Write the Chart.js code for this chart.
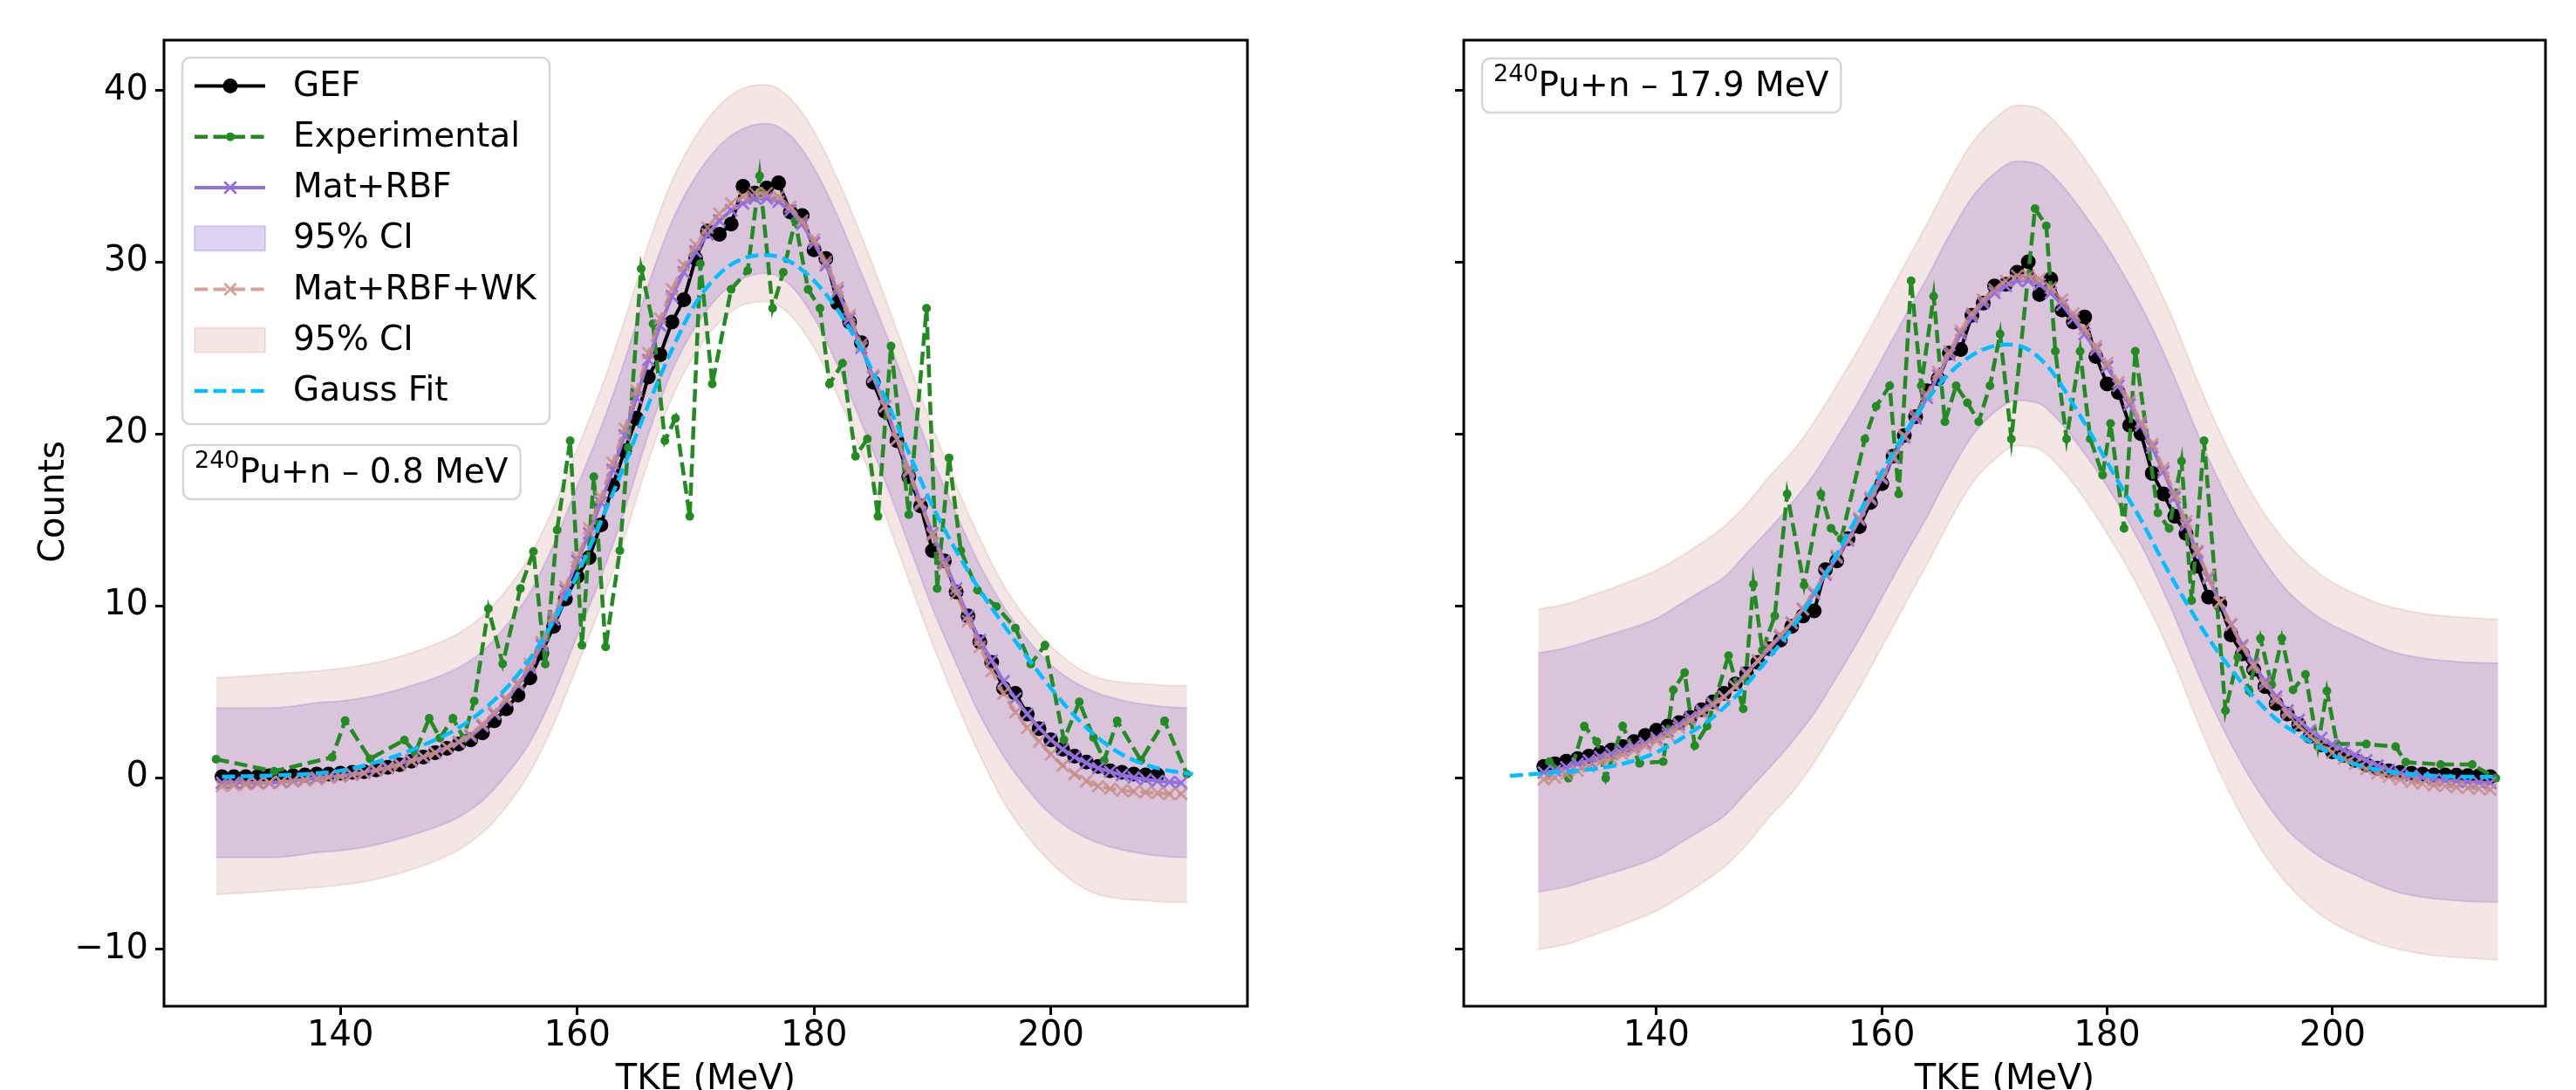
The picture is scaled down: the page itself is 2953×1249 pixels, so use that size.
<!DOCTYPE html>
<html>
<head>
<meta charset="utf-8">
<script src="https://cdn.jsdelivr.net/npm/chart.js@4.4.1/dist/chart.umd.min.js"></script>
<style>
  html, body { margin: 0; padding: 0; background: #fff; overflow: hidden; }
  #wrap { position: relative; width: 2953px; height: 1249px; overflow: hidden; }
  canvas { position: absolute; top: 0; }
  #left { left: 0; }
  #right { left: 1480px; }
</style>
</head>
<body>
<div id="wrap">
  <canvas id="left" width="1480" height="1290"></canvas>
  <canvas id="right" width="1473" height="1290"></canvas>
</div>
<script>
// values
var yTicks = [-10, 0, 10, 20, 30, 40];
var xTicks = [140, 160, 180, 200];
var legendLabels = ['GEF', 'Experimental', 'Mat+RBF', '95% CI', 'Mat+RBF+WK', '95% CI', 'Gauss Fit'];
var tagEnergy = ['0.8 MeV', '17.9 MeV'];

// ---- left panel: 240Pu+n 0.8 MeV ----
var gefX_L = [130,131,132,133,134,135,136,137,138,139,140,141,142,143,144,145,146,147,148,149,
  150,151,152,153,154,155,156,157,158,159,160,161,162,163,164,165,166,167,168,169,
  170,171,172,173,174,175,176,177,178,179,180,181,182,183,184,185,186,187,188,189,
  190,191,192,193,194,195,196,197,198,199,200,201,202,203,204,205,206,207,208,209];
var gefY_L = [0.05,0.05,0.05,0.05,0.1,0.1,0.1,0.15,0.2,0.2,0.25,0.3,0.35,0.45,0.6,0.75,0.95,1.2,1.45,1.7,
  1.95,2.2,2.6,3.3,4.0,4.8,5.8,7.25,8.8,10.4,11.7,12.8,14.7,17.0,19.0,20.9,23.3,24.6,26.5,27.8,
  30.2,31.8,31.6,32.2,34.4,34.0,34.3,34.6,32.9,32.7,30.7,30.2,27.6,26.5,25.3,23.0,21.3,19.6,17.5,15.8,
  13.2,12.6,10.8,9.4,7.9,6.7,5.2,4.9,3.7,2.85,2.2,1.65,1.25,0.9,0.65,0.4,0.3,0.2,0.15,0.15];

var expX_L = [129.5,134.4,139.3,140.4,142.5,145.4,146.3,147.5,148.4,149.5,150.4,151.3,152.5,153.7,155.2,156.3,157.3,158.3,159.4,160.4,
  161.4,162.4,163.6,164.3,165.4,166.4,167.4,168.3,169.5,170.4,171.4,173.0,174.4,175.4,176.5,177.4,178.4,179.5,180.5,181.3,
  182.4,183.5,184.5,185.4,186.5,188.0,189.5,190.4,191.4,192.4,193.8,195.4,197.0,198.3,199.5,201.1,202.4,203.6,204.5,205.6,
  207.6,209.6,211.5];
var expY_L = [1.07,0.37,1.18,3.32,1.09,2.18,1.44,3.45,2.3,3.45,2.3,4.45,9.83,6.62,11.0,13.15,6.6,14.4,19.6,7.7,
  17.5,7.6,13.2,19.2,29.6,26.4,19.6,20.9,15.2,29.9,22.9,28.4,29.5,35.0,27.3,29.4,32.4,28.4,27.3,22.9,
  24.1,18.7,19.7,15.2,25.1,15.3,27.3,11.0,18.6,13.2,10.9,9.95,8.7,6.6,7.7,2.2,4.4,2.33,1.0,3.3,
  1.0,3.3,0.19];

var modelX_L = [130,131,132,133,134,135,136,137,138,139,140,141,142,143,144,145,146,147,148,149,
  150,151,152,153,154,155,156,157,158,159,160,161,162,163,164,165,166,167,168,169,
  170,171,172,173,174,175,176,177,178,179,180,181,182,183,184,185,186,187,188,189,
  190,191,192,193,194,195,196,197,198,199,200,201,202,203,204,205,206,207,208,209,210,211];
var ratY_L = [-0.3,-0.3,-0.3,-0.3,-0.3,-0.25,-0.2,-0.1,0.0,0.05,0.1,0.2,0.3,0.45,0.6,0.8,1.0,1.2,1.45,1.75,
  2.05,2.4,3.0,3.7,4.5,5.4,6.4,7.7,9.2,10.9,12.6,14.2,16.0,17.9,19.9,22.1,24.3,26.3,28.0,29.4,
  30.6,31.6,32.4,33.0,33.4,33.7,33.7,33.5,33.0,32.2,31.1,29.8,28.3,26.7,25.0,23.3,21.6,19.7,17.9,16.0,
  14.2,12.6,11.0,9.4,8.0,6.8,5.6,4.6,3.7,2.9,2.2,1.65,1.2,0.85,0.55,0.35,0.15,0.0,-0.1,-0.2,-0.25,-0.3];
var wkY_L = [-0.5,-0.45,-0.4,-0.35,-0.3,-0.25,-0.2,-0.15,-0.1,0.0,0.05,0.15,0.25,0.4,0.55,0.75,0.95,1.2,1.45,1.75,
  2.1,2.5,3.1,3.8,4.6,5.5,6.6,7.9,9.4,11.1,12.8,14.5,16.3,18.3,20.3,22.5,24.7,26.7,28.4,29.8,
  31.0,32.0,32.8,33.4,33.8,34.0,34.0,33.8,33.2,32.4,31.3,30.0,28.5,26.9,25.2,23.4,21.6,19.7,17.8,15.9,
  14.1,12.4,10.7,9.1,7.6,6.2,4.9,3.8,2.9,2.1,1.35,0.7,0.2,-0.2,-0.5,-0.65,-0.75,-0.8,-0.85,-0.9,-0.95,-0.95];

var bandX_L = [129.5,132,134,136,138,140,142,144,146,148,150,152,154,156,158,160,162,164,166,168,
  170,172,174,176,178,180,182,184,186,188,190,192,194,196,198,200,202,204,206,208,210,211.5];
var ratHi_L = [4.05,4.05,4.05,4.15,4.35,4.45,4.65,4.95,5.35,5.8,6.4,7.35,8.85,10.75,13.55,16.95,20.35,24.25,28.65,32.35,
  34.95,36.75,37.75,38.05,37.35,35.45,32.65,29.35,25.95,22.25,18.55,15.35,12.35,9.95,8.05,6.55,5.55,4.9,4.5,4.25,4.1,4.05];
var ratLo_L = [-4.65,-4.65,-4.65,-4.55,-4.35,-4.25,-4.05,-3.75,-3.35,-2.9,-2.3,-1.35,0.15,2.05,4.85,8.25,11.65,15.55,19.95,23.65,
  26.25,28.05,29.05,29.35,28.65,26.75,23.95,20.65,17.25,13.55,9.85,6.65,3.65,1.25,-0.65,-2.15,-3.15,-3.8,-4.2,-4.45,-4.6,-4.65];
var wkHi_L = [5.8,5.9,6.0,6.1,6.2,6.35,6.55,6.85,7.25,7.75,8.4,9.4,10.9,12.9,15.7,19.1,22.6,26.6,31.0,34.7,
  37.3,39.1,40.1,40.3,39.5,37.6,34.8,31.5,27.9,24.1,20.4,17.0,13.9,11.2,9.2,7.65,6.5,5.8,5.55,5.45,5.35,5.35];
var wkLo_L = [-6.8,-6.7,-6.6,-6.5,-6.4,-6.25,-6.05,-5.75,-5.35,-4.85,-4.2,-3.2,-1.7,0.3,3.1,6.5,10.0,14.0,18.4,22.1,
  24.7,26.5,27.5,27.7,26.9,25.0,22.2,18.9,15.3,11.5,7.8,4.4,1.3,-1.4,-3.4,-4.95,-6.1,-6.8,-7.05,-7.15,-7.25,-7.25];

var gaussX_L = [130,132,134,136,138,140,142,144,146,148,150,152,154,156,158,160,162,164,166,168,
  170,172,174,176,178,180,182,184,186,188,190,192,194,196,198,200,202,204,206,208,210,212];
var gaussY_L = [0.05,0.08,0.12,0.17,0.25,0.4,0.7,1.1,1.6,2.2,2.9,3.9,5.2,6.9,9.1,11.8,14.9,18.2,21.7,24.9,
  27.6,29.3,30.2,30.4,30.0,28.9,27.2,24.9,22.1,18.9,15.8,13.2,10.9,8.9,7.0,5.2,3.6,2.3,1.35,0.75,0.4,0.2];

// ---- right panel: 240Pu+n 17.9 MeV ----
var gefX_R = [130,131,132,133,134,135,136,137,138,139,140,141,142,143,144,145,146,147,148,149,
  150,151,152,153,154,155,156,157,158,159,160,161,162,163,164,165,166,167,168,169,
  170,171,172,173,174,175,176,177,178,179,180,181,182,183,184,185,186,187,188,189,
  190,191,192,193,194,195,196,197,198,199,200,201,202,203,204,205,206,207,208,209,210,211,212,213,214];
var gefY_R = [0.65,0.8,0.95,1.1,1.25,1.45,1.6,1.8,2.1,2.45,2.75,3.0,3.2,3.5,3.95,4.4,4.9,5.45,6.05,6.7,
  7.5,8.0,8.8,9.4,9.7,12.1,12.6,13.9,14.6,16.0,17.1,18.7,19.9,21.0,22.5,23.2,24.7,24.9,26.9,27.6,
  28.6,28.7,29.4,30.0,28.1,29.0,27.2,26.5,26.8,24.5,22.9,22.4,20.5,20.0,17.7,16.5,15.2,14.2,12.3,10.5,
  10.1,8.3,7.2,6.3,5.3,4.3,3.7,3.1,2.4,1.9,1.5,1.3,1.0,0.75,0.55,0.4,0.3,0.25,0.2,0.15,0.15,0.14,0.12,0.1,0.05];

var expX_R = [130.5,132.2,133.6,134.7,135.5,137.0,138.5,140.6,141.5,142.5,143.4,144.5,146.4,147.7,148.6,149.4,150.5,151.6,153.1,154.6,
  155.5,156.4,158.5,159.5,160.7,161.5,162.6,163.5,164.6,165.6,166.6,167.6,168.6,169.6,170.5,171.5,173.6,174.6,175.4,176.4,
  177.6,178.5,179.6,180.3,181.5,182.5,184.5,185.5,186.6,187.5,188.6,190.5,191.6,192.6,193.6,194.6,195.5,196.5,197.6,198.7,
  199.5,200.4,203.0,205.6,206.5,209.6,212.4,214.5];
var expY_R = [0.93,-0.04,3.0,2.1,-0.04,3.0,0.83,0.93,5.1,6.1,1.85,3.0,7.1,4.0,11.25,7.4,9.4,16.5,11.2,16.5,
  14.5,13.9,19.7,21.6,22.8,16.5,28.9,22.8,28.0,20.7,22.8,21.8,20.7,22.8,25.8,19.7,33.1,32.1,24.8,19.7,
  24.8,19.7,17.6,20.6,14.5,24.8,15.4,14.5,18.4,10.3,19.6,3.9,7.0,5.04,8.1,5.4,8.1,5.1,6.0,1.8,
  5.04,1.95,1.95,1.8,0.9,0.76,0.76,-0.03];

var modelX_R = gefX_R;
var ratY_R = [0.3,0.4,0.6,0.8,1.0,1.2,1.4,1.6,1.8,2.0,2.3,2.7,3.1,3.5,3.9,4.3,4.7,5.3,6.1,6.8,
  7.5,8.2,9.0,9.8,10.7,11.8,12.8,13.8,15.0,16.2,17.4,18.6,19.8,20.9,22.1,23.4,24.6,25.8,26.8,27.6,
  28.2,28.6,28.9,28.9,28.7,28.2,27.5,26.7,25.8,24.9,23.9,22.8,21.7,20.5,19.2,17.8,16.3,14.7,13.1,11.6,
  10.2,8.9,7.7,6.6,5.6,4.7,3.9,3.35,2.75,2.3,1.9,1.6,1.3,1.0,0.7,0.45,0.25,0.1,0.0,-0.1,-0.15,-0.2,-0.25,-0.28,-0.3];
var wkY_R = [-0.1,0.0,0.2,0.4,0.65,0.9,1.1,1.35,1.6,1.85,2.15,2.5,2.9,3.3,3.75,4.2,4.7,5.3,6.0,6.8,
  7.6,8.3,9.0,9.8,10.8,11.9,12.9,13.9,15.1,16.3,17.5,18.7,19.9,21.1,22.3,23.6,24.8,26.0,27.0,27.8,
  28.4,28.9,29.2,29.2,29.0,28.5,27.8,27.0,26.1,25.1,24.1,23.0,21.9,20.7,19.4,18.0,16.5,14.9,13.2,11.7,
  10.2,8.9,7.6,6.5,5.4,4.5,3.7,3.0,2.4,1.9,1.45,1.1,0.8,0.5,0.25,0.05,-0.1,-0.25,-0.35,-0.45,-0.5,-0.55,-0.6,-0.65,-0.7];

var bandX_R = [129.5,132,134,136,138,140,142,144,146,148,150,152,154,156,158,160,162,164,166,168,
  170,172,174,176,178,180,182,184,186,188,190,192,194,196,198,200,202,204,206,208,210,212,214.7];
var ratHi_R = [7.25,7.55,7.95,8.35,8.75,9.25,10.05,10.85,11.65,13.05,14.45,15.95,17.65,19.75,21.95,24.35,26.75,29.05,31.55,33.75,
  35.15,35.85,35.65,34.45,32.75,30.85,28.65,26.15,23.25,20.05,17.15,14.65,12.55,10.85,9.7,8.85,8.25,7.65,7.2,6.95,6.8,6.7,6.65];
var ratLo_R = [-6.65,-6.35,-5.95,-5.55,-5.15,-4.65,-3.85,-3.05,-2.25,-0.85,0.55,2.05,3.75,5.85,8.05,10.45,12.85,15.15,17.65,19.85,
  21.25,21.95,21.75,20.55,18.85,16.95,14.75,12.25,9.35,6.15,3.25,0.75,-1.35,-3.05,-4.2,-5.05,-5.65,-6.25,-6.7,-6.95,-7.1,-7.2,-7.25];
var wkHi_R = [9.8,10.1,10.55,11.0,11.5,12.05,12.8,13.65,14.6,15.9,17.5,18.9,20.7,22.8,25.0,27.4,29.8,32.2,34.7,36.9,
  38.3,39.1,38.9,37.7,36.0,34.0,31.8,29.3,26.4,23.1,20.1,17.5,15.3,13.6,12.3,11.35,10.7,10.15,9.8,9.55,9.4,9.3,9.2];
var wkLo_R = [-10.0,-9.7,-9.25,-8.8,-8.3,-7.75,-7.0,-6.15,-5.2,-3.9,-2.3,-0.9,0.9,3.0,5.2,7.6,10.0,12.4,14.9,17.1,
  18.5,19.3,19.1,17.9,16.2,14.2,12.0,9.5,6.6,3.3,0.3,-2.3,-4.5,-6.2,-7.5,-8.45,-9.1,-9.65,-10.0,-10.25,-10.4,-10.5,-10.6];

var gaussX_R = [127,129,131,133,135,137,139,141,143,145,147,149,151,153,155,157,159,161,163,165,
  167,169,171,173,175,177,179,181,183,185,187,189,191,193,195,197,199,201,203,205,207,209,211,213,214.7];
var gaussY_R = [0.1,0.2,0.3,0.4,0.55,0.8,1.2,1.8,2.6,3.5,4.7,6.2,7.8,9.6,11.8,14.2,16.6,18.9,21.0,22.8,
  24.1,24.9,25.2,24.9,23.7,21.7,19.5,17.2,15.0,12.5,10.2,8.1,6.3,4.7,3.4,2.5,1.7,1.0,0.6,0.35,0.2,0.1,0.05,0.05,0.05];

// ---- styling ----
var FONT = 'DejaVu Sans';
var GREEN = '#228B22', PURPLE = '#9370DB', SKY = '#00BFFF';
var PURPLE_FILL = 'rgba(147,112,219,0.3)';
var ROSE_FILL = 'rgba(200,140,130,0.22)';
var ROSE_LINE = 'rgba(200,140,130,0.8)';
var DASH = [15, 6.5];

function pts(xs, ys) {
  var out = [];
  for (var i = 0; i < xs.length; i++) out.push({x: xs[i], y: ys[i]});
  return out;
}

// order: higher is drawn first; fills sit under every line, as in matplotlib
function panelDatasets(p) {
  return [
    {label: legendLabels[0], data: pts(p.gefX, p.gefY), order: 7, borderColor: '#000', borderWidth: 4,
      pointStyle: 'circle', pointRadius: 8.5, pointBackgroundColor: '#000', pointBorderWidth: 0},
    {label: legendLabels[1], data: pts(p.expX, p.expY), order: 6, borderColor: GREEN, borderWidth: 4.5, borderDash: DASH,
      pointStyle: 'circle', pointRadius: 5, pointBackgroundColor: GREEN, pointBorderWidth: 0},
    {label: legendLabels[2], data: pts(p.modelX, p.ratY), order: 5, borderColor: PURPLE, borderWidth: 4,
      pointStyle: 'crossRot', pointRadius: 9.5, pointBorderColor: PURPLE, pointBorderWidth: 2.8},
    {label: 'ci-lo', data: pts(p.bandX, p.ratLo), order: 10, borderColor: PURPLE_FILL, borderWidth: 2,
      pointRadius: 0, fill: false, cubicInterpolationMode: 'monotone'},
    {label: legendLabels[3], data: pts(p.bandX, p.ratHi), order: 10, borderColor: PURPLE_FILL, backgroundColor: PURPLE_FILL,
      borderWidth: 2, pointRadius: 0, fill: '-1', cubicInterpolationMode: 'monotone'},
    {label: legendLabels[4], data: pts(p.modelX, p.wkY), order: 3, borderColor: ROSE_LINE, borderWidth: 4, borderDash: DASH,
      pointStyle: 'crossRot', pointRadius: 9.5, pointBorderColor: ROSE_LINE, pointBorderWidth: 2.8},
    {label: 'ci-lo', data: pts(p.bandX, p.wkLo), order: 9, borderColor: ROSE_FILL, borderWidth: 2,
      pointRadius: 0, fill: false, cubicInterpolationMode: 'monotone'},
    {label: legendLabels[5], data: pts(p.bandX, p.wkHi), order: 9, borderColor: ROSE_FILL, backgroundColor: ROSE_FILL,
      borderWidth: 2, pointRadius: 0, fill: '-1', cubicInterpolationMode: 'monotone'},
    {label: legendLabels[6], data: pts(p.gaussX, p.gaussY), order: 1, borderColor: SKY, borderWidth: 4.5, borderDash: DASH,
      pointRadius: 0, cubicInterpolationMode: 'monotone'}
  ];
}

function roundRect(ctx, x, y, w, h, r) {
  ctx.beginPath();
  ctx.moveTo(x + r, y);
  ctx.lineTo(x + w - r, y); ctx.arcTo(x + w, y, x + w, y + r, r);
  ctx.lineTo(x + w, y + h - r); ctx.arcTo(x + w, y + h, x + w - r, y + h, r);
  ctx.lineTo(x + r, y + h); ctx.arcTo(x, y + h, x, y + h - r, r);
  ctx.lineTo(x, y + r); ctx.arcTo(x, y, x + r, y, r);
  ctx.closePath();
}

function boxFrame(ctx, x, y, w, h) {
  roundRect(ctx, x, y, w, h, 9);
  ctx.fillStyle = 'rgba(255,255,255,0.8)';
  ctx.fill();
  ctx.lineWidth = 2.5;
  ctx.strokeStyle = 'rgba(204,204,204,0.8)';
  ctx.stroke();
}

// legend rows refer to dataset indexes
var legendRows = [{ds: 0}, {ds: 1}, {ds: 2}, {ds: 4, patch: true}, {ds: 5}, {ds: 7, patch: true}, {ds: 8}];

function drawLegend(chart, x, y) {
  var ctx = chart.ctx, sets = chart.data.datasets;
  boxFrame(ctx, x, y, 421, 420);
  ctx.font = '39px "' + FONT + '"';
  ctx.textBaseline = 'middle';
  ctx.textAlign = 'left';
  legendRows.forEach(function(row, i) {
    var ds = sets[row.ds];
    var cy = y + 32.5 + i * 58.25;
    if (row.patch) {
      ctx.fillStyle = ds.backgroundColor;
      ctx.fillRect(x + 14, cy - 14, 81, 28);
      ctx.strokeStyle = ds.borderColor;
      ctx.lineWidth = 2;
      ctx.strokeRect(x + 14, cy - 14, 81, 28);
    } else {
      ctx.save();
      ctx.setLineDash(ds.borderDash || []);
      ctx.strokeStyle = ds.borderColor;
      ctx.lineWidth = ds.borderWidth;
      ctx.beginPath();
      ctx.moveTo(x + 14, cy);
      ctx.lineTo(x + 95, cy);
      ctx.stroke();
      ctx.restore();
      if (ds.pointRadius > 0) {
        ctx.save();
        ctx.fillStyle = ds.pointBackgroundColor || ds.borderColor;
        ctx.strokeStyle = ds.pointBorderColor || ds.borderColor;
        ctx.lineWidth = ds.pointBorderWidth;
        Chart.helpers.drawPoint(ctx, {pointStyle: ds.pointStyle, radius: ds.pointRadius,
          borderWidth: ds.pointBorderWidth, rotation: 0}, x + 55, cy);
        ctx.restore();
      }
    }
    ctx.fillStyle = '#000';
    ctx.fillText(legendLabels[i], x + 127, cy + 1);
  });
}

function drawTag(ctx, energy, x, y) {
  var sup = '240', main = 'Pu+n \u2013 ' + energy;
  ctx.font = '27px "' + FONT + '"';
  var supW = ctx.measureText(sup).width;
  ctx.font = '39px "' + FONT + '"';
  var mainW = ctx.measureText(main).width;
  boxFrame(ctx, x, y, 13 + supW + mainW + 14, 62);
  ctx.fillStyle = '#000';
  ctx.textAlign = 'left';
  ctx.textBaseline = 'alphabetic';
  ctx.font = '27px "' + FONT + '"';
  ctx.fillText(sup, x + 13, y + 26);
  ctx.font = '39px "' + FONT + '"';
  ctx.fillText(main, x + 13 + supW, y + 43);
}

var overlayPlugin = {
  id: 'overlay',
  afterDatasetsDraw: function(chart) {
    var a = chart.chartArea, ctx = chart.ctx;
    ctx.save();
    ctx.strokeStyle = '#000';
    ctx.lineWidth = 3;
    ctx.strokeRect(a.left, a.top, a.right - a.left, a.bottom - a.top);
    ctx.restore();
  },
  afterDraw: function(chart, args, opts) {
    var a = chart.chartArea, ctx = chart.ctx;
    ctx.save();
    if (opts.legend) drawLegend(chart, a.left + 21, a.top + 20);
    drawTag(ctx, opts.energy, a.left + opts.tagDx, a.top + opts.tagDy);
    if (opts.yLabel) {
      // y label sits a little above the axes centre in the reference
      ctx.translate(63, 575);
      ctx.rotate(-Math.PI / 2);
      ctx.font = '40px "' + FONT + '"';
      ctx.fillStyle = '#000';
      ctx.textAlign = 'center';
      ctx.textBaseline = 'middle';
      ctx.fillText(opts.yLabel, 0, 0);
    }
    ctx.restore();
  }
};

function minusLabel(v) { return String(v).replace('-', '\u2212'); }

function makeChart(id, p) {
  var tickFont = {family: FONT, size: 40};
  return new Chart(document.getElementById(id), {
    type: 'line',
    data: {datasets: panelDatasets(p)},
    options: {
      responsive: false,
      animation: false,
      devicePixelRatio: 1,
      layout: {autoPadding: false, padding: {left: 0, top: 46, right: p.padRight, bottom: 0}},
      elements: {line: {tension: 0}},
      plugins: {
        legend: {display: false},
        tooltip: {enabled: false},
        overlay: {legend: p.legend, energy: p.energy, tagDx: p.tagDx, tagDy: p.tagDy, yLabel: p.yLabel}
      },
      scales: {
        x: {
          type: 'linear', min: p.xMin, max: p.xMax,
          afterBuildTicks: function(s) { s.ticks = xTicks.map(function(v) { return {value: v}; }); },
          afterFit: function(s) { s.height = 1290 - 1153; },
          grid: {display: true, drawOnChartArea: false, drawTicks: true, tickLength: 10, tickWidth: 3, tickColor: '#000'},
          border: {display: false},
          ticks: {color: '#000', font: tickFont, padding: 1, maxRotation: 0, autoSkip: false},
          title: {display: true, text: 'TKE (MeV)', color: '#000', font: tickFont, padding: {top: 0, bottom: 28}}
        },
        y: {
          type: 'linear', min: -13.3, max: 42.9,
          afterBuildTicks: function(s) { s.ticks = yTicks.map(function(v) { return {value: v}; }); },
          afterFit: function(s) { s.width = p.yAxisW; },
          grid: {display: true, drawOnChartArea: false, drawTicks: true, tickLength: 10, tickWidth: 3, tickColor: '#000'},
          border: {display: false},
          ticks: {color: '#000', font: tickFont, padding: 8, autoSkip: false,
            callback: p.showY ? minusLabel : function() { return ''; }}
        }
      }
    },
    plugins: [overlayPlugin]
  });
}

makeChart('left', {
  gefX: gefX_L, gefY: gefY_L, expX: expX_L, expY: expY_L,
  modelX: modelX_L, ratY: ratY_L, wkY: wkY_L,
  bandX: bandX_L, ratLo: ratLo_L, ratHi: ratHi_L, wkLo: wkLo_L, wkHi: wkHi_L,
  gaussX: gaussX_L, gaussY: gaussY_L,
  xMin: 125.1, xMax: 216.6, yAxisW: 188, padRight: 50, showY: true, yLabel: 'Counts',
  legend: true, energy: tagEnergy[0], tagDx: 22, tagDy: 464
});

makeChart('right', {
  gefX: gefX_R, gefY: gefY_R, expX: expX_R, expY: expY_R,
  modelX: modelX_R, ratY: ratY_R, wkY: wkY_R,
  bandX: bandX_R, ratLo: ratLo_R, ratHi: ratHi_R, wkLo: wkLo_R, wkHi: wkHi_R,
  gaussX: gaussX_R, gaussY: gaussY_R,
  xMin: 122.9, xMax: 218.9, yAxisW: 198, padRight: 35, showY: false, yLabel: '',
  legend: false, energy: tagEnergy[1], tagDx: 21, tagDy: 21
});
</script>
</body>
</html>
